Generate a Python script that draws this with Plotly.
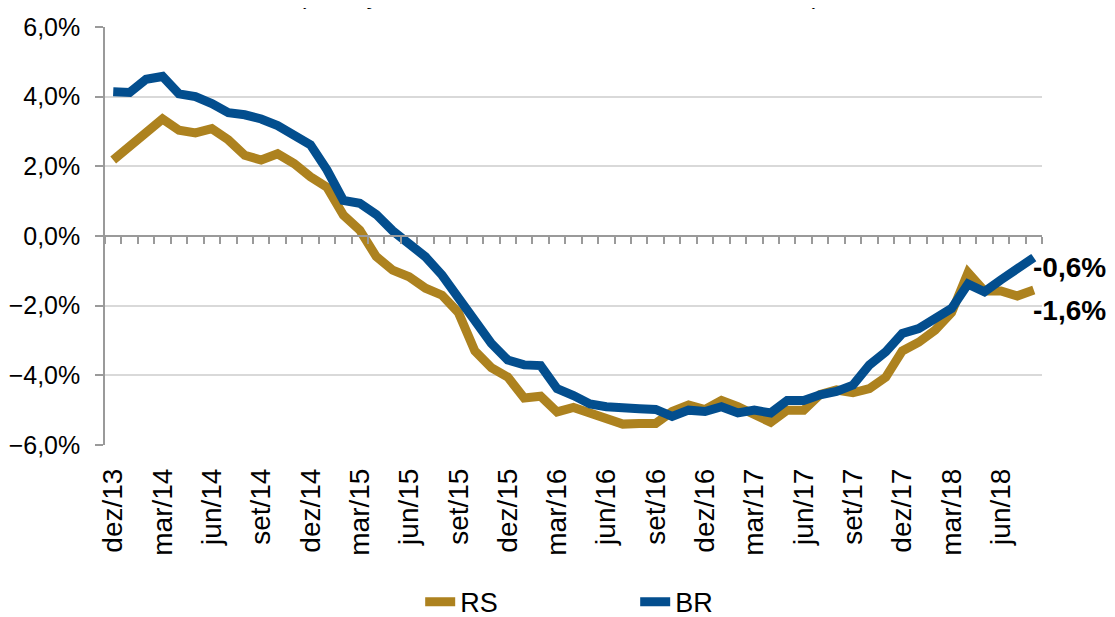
import plotly.graph_objects as go

# ---- data ----
months = ["dez/13",
          "jan/14", "fev/14", "mar/14", "abr/14", "mai/14", "jun/14", "jul/14", "ago/14", "set/14", "out/14", "nov/14", "dez/14",
          "jan/15", "fev/15", "mar/15", "abr/15", "mai/15", "jun/15", "jul/15", "ago/15", "set/15", "out/15", "nov/15", "dez/15",
          "jan/16", "fev/16", "mar/16", "abr/16", "mai/16", "jun/16", "jul/16", "ago/16", "set/16", "out/16", "nov/16", "dez/16",
          "jan/17", "fev/17", "mar/17", "abr/17", "mai/17", "jun/17", "jul/17", "ago/17", "set/17", "out/17", "nov/17", "dez/17",
          "jan/18", "fev/18", "mar/18", "abr/18", "mai/18", "jun/18", "jul/18", "ago/18"]

rs = [2.18, 2.56, 2.90, 3.36, 3.04, 2.96, 3.08, 2.76, 2.32, 2.18, 2.36, 2.08, 1.70,
      1.40, 0.60, 0.17, -0.59, -0.98, -1.17, -1.50, -1.70, -2.20, -3.30, -3.78, -4.05,
      -4.65, -4.60, -5.05, -4.92, -5.08, -5.20, -5.40, -5.38, -5.38, -5.04, -4.85, -4.98,
      -4.72, -4.90, -5.15, -5.35, -5.00, -5.00, -4.55, -4.42, -4.50, -4.38, -4.05, -3.30,
      -3.05, -2.70, -2.20, -1.05, -1.58, -1.58, -1.72, -1.55]

br = [4.14, 4.12, 4.50, 4.58, 4.08, 4.00, 3.80, 3.54, 3.48, 3.36, 3.17, 2.90, 2.62,
      1.90, 1.02, 0.94, 0.62, 0.15, -0.20, -0.60, -1.12, -1.74, -2.45, -3.08, -3.56,
      -3.70, -3.72, -4.38, -4.58, -4.82, -4.90, -4.96, -4.96, -4.98, -5.18, -5.00, -5.04,
      -4.90, -5.08, -5.00, -5.08, -4.72, -4.72, -4.56, -4.46, -4.28, -3.70, -3.32, -2.80,
      -2.66, -2.37, -2.08, -1.38, -1.60, -1.26, -0.94, -0.62]

tick_labels = months[::3]
last_labels = ["-1,6%", "-0,6%"]
title_text = "(Variação do volume acumulado em 12 meses)"

GOLD = "#AD821F"
BLUE = "#034E8E"
FONT = "Liberation Sans, Arial, sans-serif"

fig = go.Figure()
fig.add_trace(go.Scatter(x=months, y=rs, mode="lines", name="RS",
                         line=dict(color=GOLD, width=9), xaxis="x", yaxis="y"))
fig.add_trace(go.Scatter(x=months, y=br, mode="lines", name="BR",
                         line=dict(color=BLUE, width=9), xaxis="x", yaxis="y"))
# invisible helper trace so the zero-line axis has its categories
fig.add_trace(go.Scatter(x=months, y=[0] * len(months), mode="lines",
                         line=dict(width=0), showlegend=False, hoverinfo="skip",
                         xaxis="x2", yaxis="y"))

fig.add_annotation(x=months[-1], y=br[-1], xref="x", yref="y", text="<b>" + last_labels[1] + "</b>",
                   showarrow=False, xanchor="left", yanchor="middle", xshift=-3, yshift=-10,
                   font=dict(family=FONT, size=28, color="#000000"))
fig.add_annotation(x=months[-1], y=rs[-1], xref="x", yref="y", text="<b>" + last_labels[0] + "</b>",
                   showarrow=False, xanchor="left", yanchor="middle", xshift=-3, yshift=-21,
                   font=dict(family=FONT, size=28, color="#000000"))
fig.add_annotation(x=0.4845, y=1, xref="paper", yref="paper", text=title_text,
                   showarrow=False, xanchor="center", yanchor="bottom", yshift=16,
                   font=dict(family=FONT, size=25, color="#000000"))

fig.update_layout(
    width=1115, height=617,
    margin=dict(l=97, r=81, t=19, b=180, autoexpand=False),
    paper_bgcolor="white", plot_bgcolor="white",
    separators=",.",
    font=dict(family=FONT, size=25, color="#000000"),
    showlegend=True,
    legend=dict(orientation="h", xref="container", yref="container",
                x=0.5625, y=0.037, xanchor="center", yanchor="middle",
                font=dict(family=FONT, size=27, color="#000000"),
                entrywidth=170, bgcolor="rgba(0,0,0,0)"),
    xaxis=dict(type="category", range=[-0.5, len(months) - 0.5],
               tickmode="array", tickvals=tick_labels, ticktext=tick_labels,
               tickangle=-90, showline=False, showgrid=False, ticks="",
               ticklabelstandoff=17, zeroline=False, automargin=False,
               tickfont=dict(family=FONT, size=28, color="#000000")),
    xaxis2=dict(type="category", overlaying="x", anchor="free", position=0.5,
                range=[-0.5, len(months) - 0.5], tickson="boundaries",
                tickmode="array", tickvals=months, automargin=False,
                showticklabels=False, ticks="outside", ticklen=7, tickwidth=1.5,
                tickcolor="#9A9A9A", showline=True, linecolor="#9A9A9A", linewidth=1.5,
                showgrid=False, zeroline=False),
    yaxis=dict(range=[-6, 6], tickmode="linear", tick0=-6, dtick=2,
               tickformat=".1f", ticksuffix="%", automargin=False,
               showline=True, linecolor="#9A9A9A", linewidth=1.5,
               ticks="outside", ticklen=8, tickwidth=1.5, tickcolor="#9A9A9A",
               showgrid=True, gridcolor="#D9D9D9", gridwidth=1.5, zeroline=False,
               ticklabelstandoff=10,
               tickfont=dict(family=FONT, size=25, color="#000000")),
)

fig.write_html("out.html")
